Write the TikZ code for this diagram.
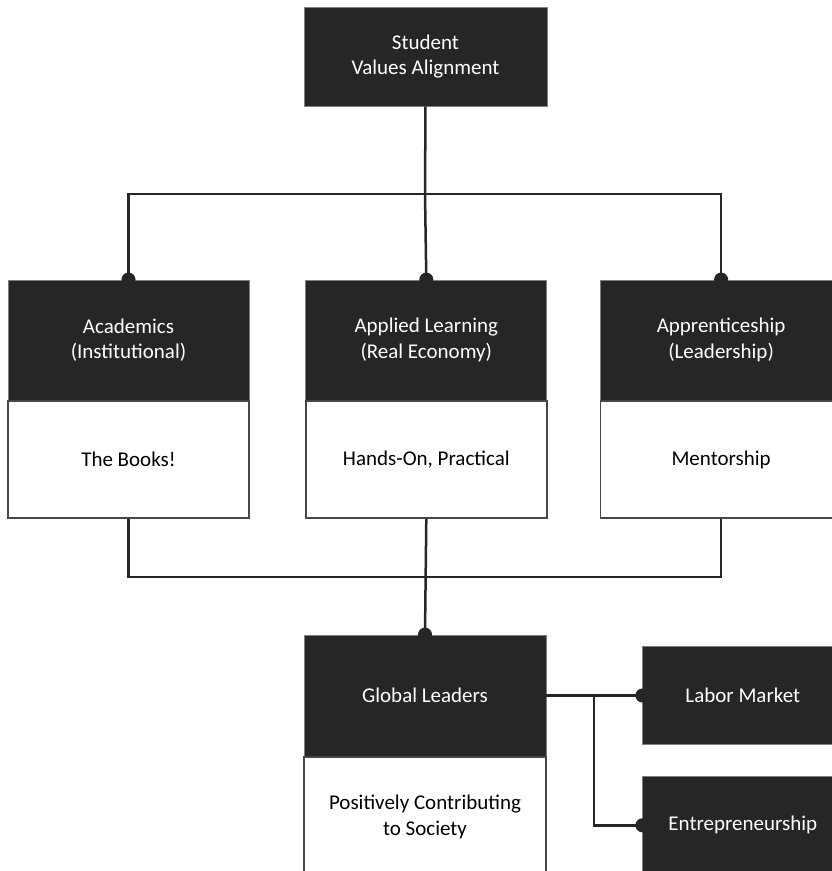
\documentclass[tikz,border=0pt]{standalone}
\usepackage{fontspec}
\setmainfont{Carlito}
\usepackage{xcolor}
\usepackage{tikz}
\usetikzlibrary{arrows.meta, positioning}

\definecolor{ink}{HTML}{262626}
\definecolor{rim}{HTML}{7F7F7F}

\begin{document}
\begin{tikzpicture}[x=1pt,y=-1pt,node distance=0pt,
    font=\fontsize{21}{25.5}\selectfont]
    \tikzset{head/.style={draw=rim,line width=0.8pt,fill=ink,text=white,align=center,
                 minimum width=241pt,minimum height=120pt,inner sep=0pt},
             body/.style={draw=ink!85,line width=1.4pt,fill=white,text=black,align=center,
                 minimum width=241pt,minimum height=117pt,inner sep=0pt},
             tile/.style={head,minimum width=200pt,minimum height=98pt},
             link/.style={draw=ink,line width=2.5pt},
             dot/.style={link,-{Circle[length=14pt]},shorten >=-7pt}}

    \useasboundingbox (0,0) rectangle (832,871);

    \node[head,minimum width=243pt,minimum height=99pt] (S) at (425.5,56.5) {Student\\Values Alignment};

    \node[head] (A) at (128.5,340) {Academics\\(Institutional)};
    \node[body] (Ab) [below=of A] {The Books!};
    \node[head] (L) [right=56pt of A] {Applied Learning\\(Real Economy)};
    \node[body] (Lb) [below=of L] {Hands-On, Practical};
    \node[head] (P) [right=53pt of L] {Apprenticeship\\(Leadership)};
    \node[body] (Pb) [below=of P] {Mentorship};

    \node[head,minimum width=242pt,minimum height=121pt] (G) at (425,695.5) {Global Leaders};
    \node[body,minimum width=242pt,minimum height=120pt] (Gb) [below=of G] {Positively Contributing\\to Society};
    \node[tile] (M) [right=96pt of G] {Labor Market};
    \node[tile] (E) [below=31pt of M] {Entrepreneurship};

    \coordinate (busT) at (425,194);
    \coordinate (busB) at (425,577);
    \coordinate (fork) at (594,695.5);

    \path[link] (S.south) -- (busT);
    \path[dot] (busT) -- (L.north);
    \path[dot] (busT) -| (A.north);
    \path[dot] (busT) -| (P.north);

    \path[link] (Ab.south) |- (busB) -| (Pb.south);
    \path[dot] (Lb.south) -- (G.north);

    \path[dot] (G.east) -- (M.west);
    \path[dot] (fork) |- (E.west);
\end{tikzpicture}
\end{document}
